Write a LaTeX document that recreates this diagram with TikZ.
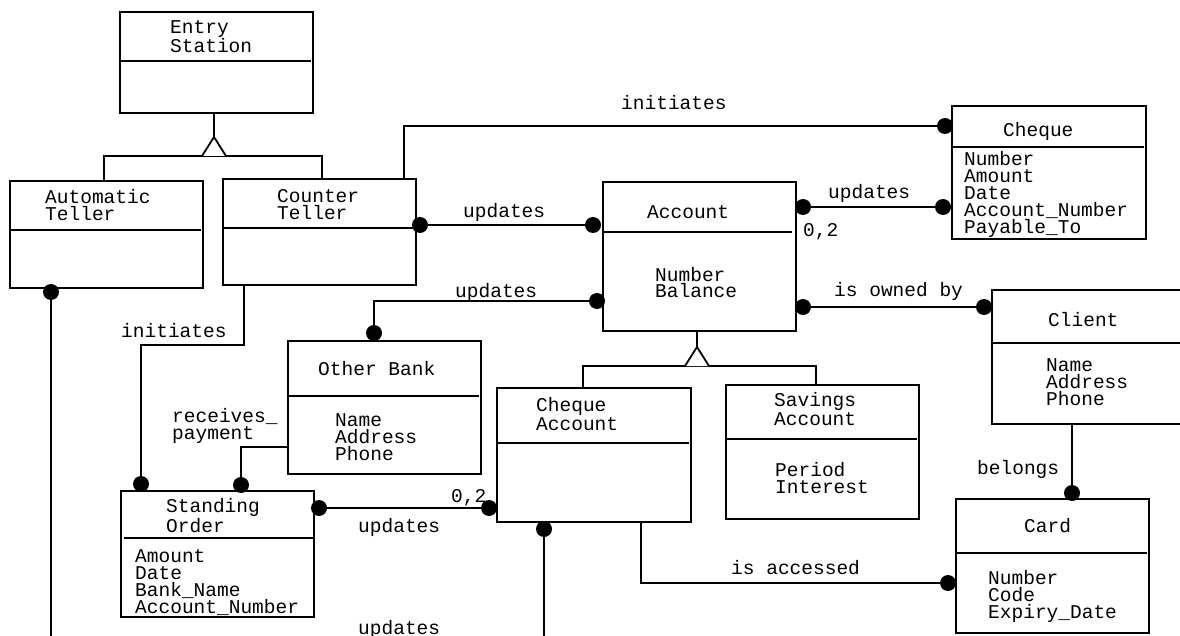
\documentclass[tikz,border=0pt]{standalone}
\usepackage{fontspec}
\newfontfamily\cour{Liberation Mono}
\begin{document}
\begin{tikzpicture}[x=1pt,y=-1pt,
 cls/.style={draw, line width=1.8pt, inner sep=0pt, outer sep=0pt, anchor=north west},
 divl/.style={line width=1.8pt},
 conn/.style={line width=1.8pt},
 dotn/.style={circle, fill=black, inner sep=0pt, minimum size=16pt},
 txt/.style={font={\cour\fontsize{19.5}{17}\selectfont}, align=left, anchor=base west, inner sep=0pt}
]
\fill[white] (0,0) rectangle (1180,636);
\useasboundingbox (0,0) rectangle (1180,636);

% ---------- class boxes (text anchored at baseline of last line) ----------
\node[cls, minimum width=193pt, minimum height=101pt] (es) at (120,12) {};
\draw[divl] (120,61) -- (311,61);
\node[txt] (es-t) at (170,53) {Entry\\Station};

\node[cls, minimum width=193pt, minimum height=107pt] (at) at (10,181) {};
\draw[divl] (10,230) -- (201,230);
\node[txt] (at-t) at (45,221) {Automatic\\Teller};

\node[cls, minimum width=193pt, minimum height=106pt] (ct) at (223,179) {};
\draw[divl] (223,228) -- (414,228);
\node[txt] (ct-t) at (277,220) {Counter\\Teller};

\node[cls, minimum width=193pt, minimum height=149pt] (acc) at (603,182) {};
\draw[divl] (603,232) -- (792,232);
\node[txt] (acc-t) at (647,219) {Account};
\node[txt] (acc-a) at (655,298) {Number\\Balance};

\node[cls, minimum width=194pt, minimum height=133pt] (chq) at (952,106) {};
\draw[divl] (952,147) -- (1144,147);
\node[txt] (chq-t) at (1003,137) {Cheque};
\node[txt] (chq-a) at (964,234) {Number\\Amount\\Date\\Account\_Number\\Payable\_To};

\node[cls, minimum width=196pt, minimum height=134pt] (cli) at (992,290) {};
\draw[divl] (992,343) -- (1188,343);
\node[txt] (cli-t) at (1048,326) {Client};
\node[txt] (cli-a) at (1046,405) {Name\\Address\\Phone};

\node[cls, minimum width=193pt, minimum height=134pt] (card) at (956,499) {};
\draw[divl] (956,553) -- (1147,553);
\node[txt] (card-t) at (1024,532) {Card};
\node[txt] (card-a) at (988,618) {Number\\Code\\Expiry\_Date};

\node[cls, minimum width=193pt, minimum height=133pt] (ob) at (288,341) {};
\draw[divl] (288,396) -- (479,396);
\node[txt] (ob-t) at (318,375) {Other Bank};
\node[txt] (ob-a) at (335,460) {Name\\Address\\Phone};

\node[cls, minimum width=193pt, minimum height=126pt] (so) at (121,491) {};
\draw[divl] (124,538) -- (314,538);
\node[txt] (so-t) at (166,532) {Standing\\Order};
\node[txt] (so-a) at (135,613) {Amount\\Date\\Bank\_Name\\Account\_Number};

\node[cls, minimum width=194pt, minimum height=134pt] (ca) at (497,388) {};
\draw[divl] (497,443) -- (689,443);
\node[txt] (ca-t) at (536,430) {Cheque\\Account};

\node[cls, minimum width=193pt, minimum height=134pt] (sa) at (726,385) {};
\draw[divl] (726,439) -- (917,439);
\node[txt] (sa-t) at (774,425) {Savings\\Account};
\node[txt] (sa-a) at (775,493) {Period\\Interest};

% ---------- dots ----------
\node[dotn] (dAT) at (51,292) {};
\node[dotn] (dCT) at (420,225) {};
\node[dotn] (dAcc1) at (593,225) {};
\node[dotn] (dChq1) at (945,126) {};
\node[dotn] (dAcc2) at (803,207) {};
\node[dotn] (dChq2) at (943,207) {};
\node[dotn] (dAcc4) at (803,307) {};
\node[dotn] (dCli) at (984,307) {};
\node[dotn] (dAcc3) at (597,301) {};
\node[dotn] (dOB1) at (374,333) {};
\node[dotn] (dSO1) at (141,484) {};
\node[dotn] (dSO2) at (241,485) {};
\node[dotn] (dSO3) at (319,508) {};
\node[dotn] (dCA1) at (489,508) {};
\node[dotn] (dCA2) at (544,529) {};
\node[dotn] (dCard1) at (948,583) {};
\node[dotn] (dCard2) at (1072,493) {};

\coordinate (g1) at (214,156);
\coordinate (g2) at (697,366);
\coordinate (k1) at (190,345);
\coordinate (below) at (300,660);

% ---------- generalisations ----------
\draw[conn] ([xshift=-2.5pt]es.south) -- (214,137);
\draw[conn] ([xshift=-2.5pt]at.north) |- (g1) -| ([xshift=2.5pt]ct.north);
\draw[conn, fill=white] (202,156) -- (214,137) -- (226,156);
\draw[conn] ([xshift=-2.5pt]acc.south) -- (697,347);
\draw[conn] ([xshift=-11pt]ca.north) |- (g2) -| ([xshift=-6.5pt]sa.north);
\draw[conn, fill=white] (685,366) -- (697,347) -- (709,366);

% ---------- associations ----------
\draw[conn] (dCT) -- (dAcc1);
\draw[conn] ([xshift=181pt]ct.north west) |- (dChq1);
\draw[conn] (dAcc2) -- (dChq2);
\draw[conn] (dAcc4) -- (dCli);
\draw[conn] (dAcc3) -| (dOB1);
\draw[conn] ([xshift=21pt]ct.south west) |- (k1) -| (dSO1);
\draw[conn] ([yshift=-39.5pt]ob.west) -| (dSO2);
\draw[conn] (dSO3) -- (dCA1);
\draw[conn] ([xshift=144pt]ca.south west) |- (dCard1);
\draw[conn] ([xshift=80pt]cli.south west) -- (dCard2);
\draw[conn] (dAT) |- (below) -| (dCA2);

% ---------- labels ----------
\node[txt] (l1) at (621,110) {initiates};
\node[txt] (l2) at (463,218) {updates};
\node[txt] (l3) at (828,199) {updates};
\node[txt] (l4) at (803,237) {0,2};
\node[txt] (l5) at (834,297) {is owned by};
\node[txt] (l6) at (455,298) {updates};
\node[txt] (l7) at (121,337) {initiates};
\node[txt] (l8) at (172,439) {receives\_\\payment};
\node[txt] (l9) at (451,502) {0,2};
\node[txt] (l10) at (358,532) {updates};
\node[txt] (l11) at (358,634) {updates};
\node[txt] (l12) at (731,574) {is accessed};
\node[txt] (l13) at (977,474) {belongs};
\end{tikzpicture}
\end{document}
